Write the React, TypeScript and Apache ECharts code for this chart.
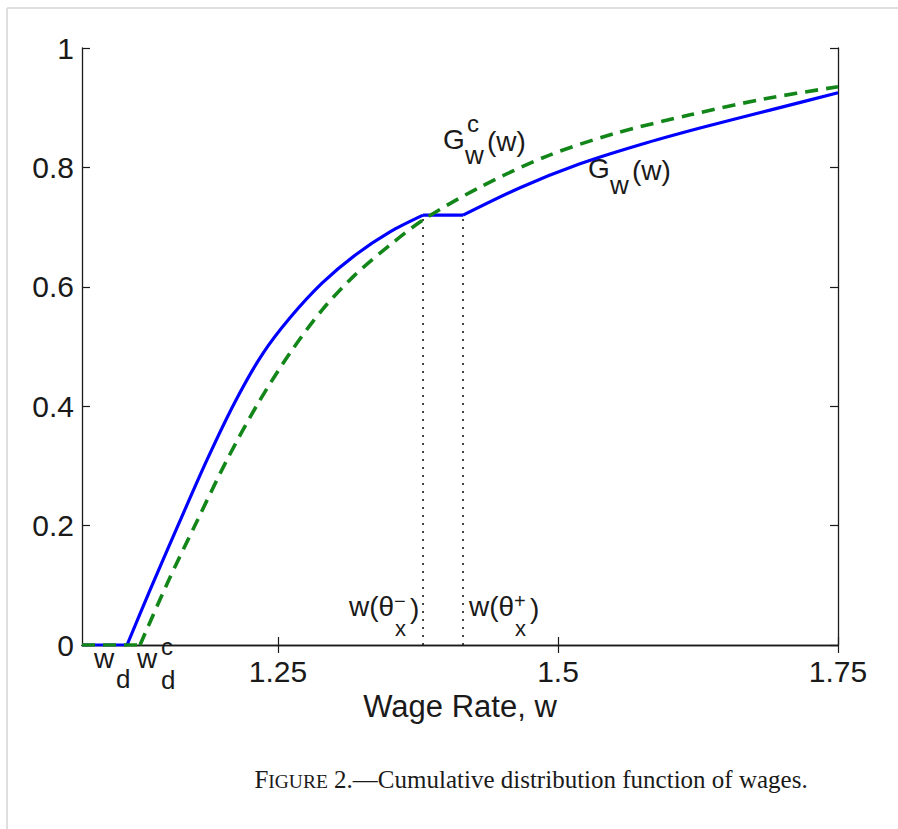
import React, { useEffect, useRef } from "react";
import * as echarts from "echarts";

// ---- axis definitions ----
const xMin = 1.075;
const xMax = 1.75;
const xTicks = [1.25, 1.5, 1.75];
const xTickLabels = ["1.25", "1.5", "1.75"];
const yTicks = [0, 0.2, 0.4, 0.6, 0.8, 1];
const yTickLabels = ["0", "0.2", "0.4", "0.6", "0.8", "1"];

// ---- G_w(w): solid blue ----
const gwZero = [[1.075, 0], [1.1152, 0]];
const gwRise = [
  [1.1152, 0], [1.1357, 0.092], [1.1616, 0.204], [1.1866, 0.31], [1.2116, 0.407],
  [1.2357, 0.486], [1.2607, 0.548], [1.2893, 0.606], [1.3188, 0.653],
  [1.35, 0.692], [1.3795, 0.72],
];
const gwFlat = [[1.3795, 0.72], [1.4152, 0.72]];
const gwUpper = [
  [1.4152, 0.72], [1.4661, 0.766], [1.5196, 0.806], [1.5732, 0.838],
  [1.6268, 0.866], [1.6893, 0.896], [1.75, 0.925],
];

// ---- G^c_w(w): dashed green ----
const gcZero = [[1.075, 0], [1.1268, 0]];
const gcRise = [
  [1.1268, 0], [1.1518, 0.106], [1.1768, 0.204], [1.2036, 0.307], [1.2313, 0.402],
  [1.2607, 0.489], [1.2893, 0.561], [1.3188, 0.62], [1.35, 0.67], [1.3795, 0.712],
  [1.4304, 0.767], [1.4902, 0.819], [1.5491, 0.856], [1.6179, 0.888],
  [1.6848, 0.915], [1.75, 0.935],
];

// ---- dotted markers w(theta_x^-) and w(theta_x^+) ----
const thetaMinus = [[1.3795, 0], [1.3795, 0.72]];
const thetaPlus = [[1.4152, 0], [1.4152, 0.72]];

const SANS = "'Liberation Sans', Arial, Helvetica, sans-serif";
const SERIF = "'Liberation Serif', 'Times New Roman', serif";
const INK = "#1a1a1a";
const BLUE = "#0000ff";
const GREEN = "#13861a";

function piece(text: string, x: number, y: number, fs: number) {
  return {
    type: "text",
    x,
    y,
    silent: true,
    style: {
      text,
      fontSize: fs,
      fontFamily: SANS,
      fill: INK,
      align: "left",
      verticalAlign: "middle",
    },
  };
}

export default function App() {
  const ref = useRef<HTMLDivElement>(null);

  useEffect(() => {
    if (!ref.current) return;
    const chart = echarts.init(ref.current, undefined, { renderer: "svg" });

    const axisLine = { show: true, lineStyle: { color: INK, width: 1.3 } };
    const tickStyle = { color: INK, width: 1.2 };

    const lineSeries = (name: string, data: number[][], color: string, dashed: boolean, smooth: boolean, z: number) => ({
      name,
      type: "line",
      data,
      smooth: smooth ? 0.3 : false,
      symbol: "none",
      z,
      lineStyle: dashed
        ? { color, width: 3.6, type: [13, 8] }
        : { color, width: 3.2 },
      itemStyle: { color },
    });

    const graphic: any[] = [
      // page border
      { type: "line", shape: { x1: 7, y1: 8, x2: 898, y2: 8 }, style: { stroke: "#d4d4d4", lineWidth: 1.5 }, silent: true },
      { type: "line", shape: { x1: 7, y1: 8, x2: 7, y2: 829 }, style: { stroke: "#d4d4d4", lineWidth: 1.5 }, silent: true },
      // G^c_w(w)
      piece("G", 443, 139, 28),
      piece("c", 467, 123, 24),
      piece("w", 465, 155, 26),
      piece("(w)", 487, 141, 28),
      // G_w(w)
      piece("G", 588, 168, 28),
      piece("w", 610, 185, 26),
      piece("(w)", 632, 170, 28),
      // w_d  w^c_d
      piece("w", 94, 658, 28),
      piece("d", 116, 679, 26),
      piece("w", 137, 658, 28),
      piece("c", 161, 646, 24),
      piece("d", 161, 680, 26),
      // w(theta_x^-)
      piece("w(θ", 349, 606, 28),
      piece("−", 394, 601, 20),
      piece("x", 395, 628, 22),
      piece(")", 410, 608, 28),
      // w(theta_x^+)
      piece("w(θ", 469, 606, 28),
      piece("+", 514, 601, 20),
      piece("x", 515, 628, 22),
      piece(")", 530, 608, 28),
      // caption
      {
        type: "text",
        x: 531,
        y: 779,
        silent: true,
        style: {
          text: "{a|F}{b|IGURE}{a| 2.—Cumulative distribution function of wages.}",
          align: "center",
          verticalAlign: "middle",
          fill: INK,
          fontFamily: SERIF,
          rich: {
            a: { fontSize: 25, fontFamily: SERIF, fill: INK, verticalAlign: "bottom" },
            b: { fontSize: 19.5, fontFamily: SERIF, fill: INK, verticalAlign: "bottom" },
          },
        },
      },
    ];

    chart.setOption({
      animation: false,
      backgroundColor: "#ffffff",
      grid: { left: 82, right: 60, top: 48, bottom: 184, containLabel: false },
      xAxis: [
        {
          type: "value",
          min: xMin,
          max: xMax,
          position: "bottom",
          axisLine,
          axisTick: { show: true, inside: true, length: 8, lineStyle: tickStyle, customValues: xTicks },
          axisLabel: {
            customValues: xTicks,
            formatter: (v: number) => xTickLabels[xTicks.findIndex((t) => Math.abs(t - v) < 1e-6)] ?? "",
            fontSize: 30,
            fontFamily: SANS,
            color: INK,
            margin: 11,
          },
          splitLine: { show: false },
          name: "Wage Rate, w",
          nameLocation: "middle",
          nameGap: 43,
          nameTextStyle: { fontSize: 31, fontFamily: SANS, color: INK },
        },
        {
          type: "value",
          min: xMin,
          max: xMax,
          position: "top",
          axisLine,
          axisTick: { show: true, inside: true, length: 8, lineStyle: tickStyle, customValues: xTicks },
          axisLabel: { show: false },
          splitLine: { show: false },
        },
      ],
      yAxis: [
        {
          type: "value",
          min: 0,
          max: 1,
          interval: 0.2,
          position: "left",
          axisLine,
          axisTick: { show: true, inside: true, length: 8, lineStyle: tickStyle },
          axisLabel: {
            formatter: (v: number) => yTickLabels[yTicks.findIndex((t) => Math.abs(t - v) < 1e-6)] ?? "",
            fontSize: 30,
            fontFamily: SANS,
            color: INK,
            margin: 8,
          },
          splitLine: { show: false },
        },
        {
          type: "value",
          min: 0,
          max: 1,
          interval: 0.2,
          position: "right",
          axisLine,
          axisTick: { show: true, inside: true, length: 8, lineStyle: tickStyle },
          axisLabel: { show: false },
          splitLine: { show: false },
        },
      ],
      series: [
        {
          name: "theta minus",
          type: "line",
          data: thetaMinus,
          symbol: "none",
          z: 1,
          lineStyle: { color: INK, width: 1.6, type: [2, 6] },
        },
        {
          name: "theta plus",
          type: "line",
          data: thetaPlus,
          symbol: "none",
          z: 1,
          lineStyle: { color: INK, width: 1.6, type: [2, 6] },
        },
        lineSeries("Gw zero", gwZero, BLUE, false, false, 2),
        lineSeries("Gw", gwRise, BLUE, false, true, 2),
        lineSeries("Gw flat", gwFlat, BLUE, false, false, 2),
        lineSeries("Gw upper", gwUpper, BLUE, false, true, 2),
        lineSeries("Gcw zero", gcZero, GREEN, true, false, 3),
        lineSeries("Gcw", gcRise, GREEN, true, true, 3),
      ],
      graphic,
    });

    return () => chart.dispose();
  }, []);

  return (
    <div
      ref={ref}
      style={{ position: "absolute", left: 0, top: 0, width: 898, height: 829, background: "#fff" }}
    />
  );
}
